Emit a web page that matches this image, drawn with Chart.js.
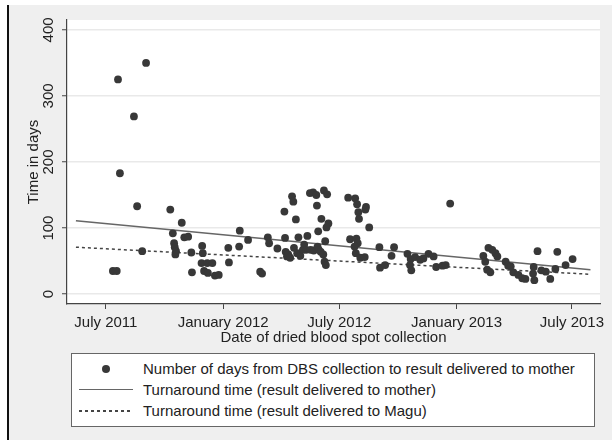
<!DOCTYPE html>
<html lang="en">
<head>
<meta charset="UTF-8">
<title>Turnaround time</title>
<script src="https://cdn.jsdelivr.net/npm/chart.js"></script>
<style>
  body { margin: 0; background: #fff; font-family: "Liberation Sans", Arial, sans-serif; }
  #frame { position: absolute; left: 7px; top: 5px; width: 605px; height: 435px; background: #efefef; border-left: 2px solid #111; box-sizing: border-box; }
  #chart { position: absolute; left: 0; top: 0; }
  #legend { position: absolute; left: 71px; top: 353px; width: 524px; height: 74px; box-sizing: border-box; background: #fff; border: 1.5px solid #666; color: #222; font-size: 15px; }
  .row { position: absolute; left: 0; width: 100%; height: 21px; line-height: 21px; }
  .txt { position: absolute; left: 71px; white-space: nowrap; }
  .dot { position: absolute; left: 30px; top: 6.5px; width: 8px; height: 8px; border-radius: 50%; background: #383838; }
  .solid { position: absolute; left: 7px; top: 10px; width: 54px; height: 0; border-top: 1.5px solid #666; }
  .dash { position: absolute; left: 7px; top: 10px; width: 54px; height: 1.5px; background: repeating-linear-gradient(to right, #444 0 3px, transparent 3px 6px); }
</style>
</head>
<body>
<div id="frame"></div>
<canvas id="chart" width="612" height="350"></canvas>
<div id="legend">
  <div class="row" style="top:4px"><i class="dot"></i><span class="txt">Number of days from DBS collection to result delivered to mother</span></div>
  <div class="row" style="top:25px"><i class="solid"></i><span class="txt">Turnaround time (result delivered to mother)</span></div>
  <div class="row" style="top:46px"><i class="dash"></i><span class="txt">Turnaround time (result delivered to Magu)</span></div>
</div>
<script>
// x values are days since 1 July 2011
const tickDays = [0, 184, 366, 550, 731];
const tickLabels = ["July 2011", "January 2012", "July 2012", "January 2013", "July 2013"];
const yTicks = [0, 100, 200, 300, 400];

const collectionDay = [11,17,19,22,44,49,57,63,101,105,
  107,108,110,109,119,123,129,134,135,151,
  152,150,154,159,160,167,171,177,192,193,
  209,210,223,242,245,254,256,269,280,281,
  282,284,286,289,292,294,298,302,295,300,
  305,309,311,316,314,320,325,330,342,347,
  331,338,349,346,333,344,321,326,332,334,
  337,341,343,345,380,391,394,396,408,407,
  397,413,383,393,395,390,392,399,406,429,
  430,438,448,452,473,478,477,479,485,493,
  498,506,514,518,528,533,540,592,595,598,
  603,600,606,611,614,627,631,639,647,653,
  658,671,670,672,677,683,690,697,708,705,
  721,732,635];
const daysToMother = [35,35,325,183,269,133,65,350,128,92,
  77,71,65,60,108,86,87,63,33,73,
  62,47,35,47,32,47,28,29,70,48,
  72,96,82,34,31,86,77,69,125,85,
  64,57,60,55,148,140,113,86,70,62,
  58,67,75,88,67,153,154,150,157,151,
  134,114,107,101,95,80,67,66,72,67,
  64,60,49,44,146,145,136,124,132,128,
  114,101,83,84,77,72,62,55,56,71,
  40,44,58,71,61,53,44,36,56,52,
  54,61,57,41,43,44,137,58,49,37,
  33,70,67,62,57,49,43,33,29,24,
  23,41,31,21,65,36,34,23,64,38,
  44,53,42];

const trendX = [-47, 760];
const trendMother = [111, 37];
const trendMagu = [71, 30];

const fontFamily = '"Liberation Sans", Arial, sans-serif';

const plotBackground = {
  id: 'plotBackground',
  beforeDraw(chart) {
    const { ctx, chartArea: a } = chart;
    ctx.save();
    ctx.fillStyle = '#fff';
    ctx.fillRect(a.left, a.top, a.right - a.left, a.bottom - a.top);
    ctx.restore();
  }
};

new Chart(document.getElementById('chart'), {
  type: 'scatter',
  data: {
    datasets: [
      {
        label: 'Number of days from DBS collection to result delivered to mother',
        data: collectionDay.map((d, i) => ({ x: d, y: daysToMother[i] })),
        backgroundColor: '#383838',
        borderWidth: 0,
        pointRadius: 3.9,
        order: 0
      },
      {
        label: 'Turnaround time (result delivered to mother)',
        data: trendX.map((d, i) => ({ x: d, y: trendMother[i] })),
        showLine: true,
        borderColor: '#666',
        borderWidth: 1.5,
        pointRadius: 0,
        order: 1
      },
      {
        label: 'Turnaround time (result delivered to Magu)',
        data: trendX.map((d, i) => ({ x: d, y: trendMagu[i] })),
        showLine: true,
        borderColor: '#444',
        borderWidth: 1.5,
        borderDash: [3, 3],
        pointRadius: 0,
        order: 1
      }
    ]
  },
  options: {
    responsive: false,
    animation: false,
    devicePixelRatio: 1,
    layout: { padding: { left: 0, right: 12, top: 20, bottom: 0 } },
    plugins: { legend: { display: false }, tooltip: { enabled: false } },
    scales: {
      x: {
        type: 'linear',
        min: -61,
        max: 775,
        afterFit(s) { s.height = 46; },
        afterBuildTicks(s) { s.ticks = tickDays.map(v => ({ value: v })); },
        ticks: {
          callback: v => tickLabels[tickDays.indexOf(v)],
          color: '#222',
          font: { size: 15, family: fontFamily },
          padding: 5,
          maxRotation: 0,
          autoSkip: false
        },
        grid: { drawOnChartArea: false, tickLength: 5, tickColor: '#444' },
        border: { color: '#444', width: 1.2 },
        title: {
          display: true,
          text: 'Date of dried blood spot collection',
          color: '#222',
          font: { size: 15, family: fontFamily },
          padding: { top: 0, bottom: 3 }
        }
      },
      y: {
        min: -15,
        max: 415,
        afterFit(s) { s.width = 67; },
        afterBuildTicks(s) { s.ticks = yTicks.map(v => ({ value: v })); },
        ticks: {
          color: '#222',
          font: { size: 15, family: fontFamily },
          minRotation: 90,
          maxRotation: 90,
          crossAlign: 'center',
          padding: 1
        },
        grid: { color: '#e9e9e9', lineWidth: 1.5, tickLength: 5, tickColor: '#444', tickWidth: 1 },
        border: { color: '#444', width: 1.2 },
        title: {
          display: true,
          text: 'Time in days',
          color: '#222',
          font: { size: 15, family: fontFamily },
          padding: { top: 25, bottom: 0 }
        }
      }
    }
  },
  plugins: [plotBackground]
});
</script>
</body>
</html>
